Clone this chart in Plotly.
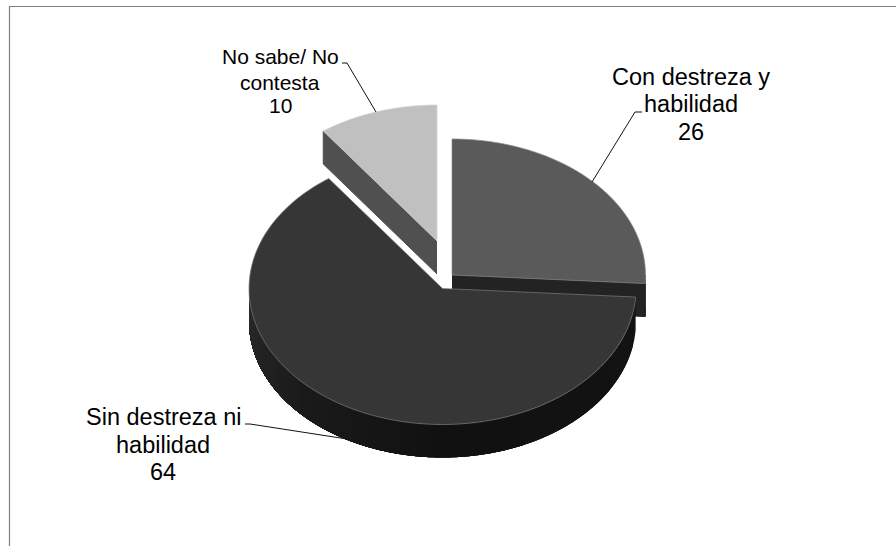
import numpy as np
import plotly.graph_objects as go

# Data
categories = ["Con destreza y habilidad", "Sin destreza ni habilidad", "No sabe/ No contesta"]
values = [26, 64, 10]
label_lines = [["Con destreza y", "habilidad"], ["Sin destreza ni", "habilidad"], ["No sabe/ No", "contesta"]]

# Styles / geometry (pixel-like frame of the hidden axes)
W, H = 896, 546
RX, RY, DEPTH = 193.5, 136, 33
apex = [(452, 275), (442.5, 288.5), (437, 241)]
top_col = ["#5a5a5a", "#363636", "#c0c0c0"]
cut_col = ["#232323", "#232323", "#505050"]
edge_col = ["#8a8a8a", "#7c7c7c", "#d4d4d4"]
label_x = [691, 163, 280]
label_y = [[77, 104, 132], [417, 445, 472], [56, 82, 105]]
label_size = [23.5, 23.5, 21]
leaders = [[(592, 182), (635, 112), (642, 112)],
           [(347, 439), (250, 424), (245, 424)],
           [(376, 112), (347, 63), (342, 63)]]

total = sum(values)
ends = np.cumsum(values) / total * 2 * np.pi
starts = np.concatenate([[0], ends[:-1]])


def rim(c, t, drop=0):
    return c[0] + RX * np.sin(t), c[1] - RY * np.cos(t) + drop


def wall_grey(t):
    deg = np.degrees(t)
    return int(round(np.interp(deg, [90, 130, 180, 225, 270], [20, 18, 17, 26, 42])))


fig = go.Figure()


def poly(xs, ys, fill, line=None, lw=1):
    fig.add_trace(go.Scatter(x=list(xs), y=list(ys), mode="lines", fill="toself", fillcolor=fill,
                             line=dict(color=line or fill, width=lw, simplify=False),
                             hoverinfo="skip", showlegend=False))


def draw_slice(i):
    c, a0, a1 = apex[i], starts[i], ends[i]
    # cut faces
    if i == 0:
        ex, ey = rim(c, a1)
        poly([c[0], ex, ex, c[0]], [c[1], ey, ey + DEPTH, c[1] + DEPTH], cut_col[i])
        t = np.linspace(np.pi / 2, a1, 8)
        x, y = rim(c, t)
        poly(np.r_[x, x[::-1]], np.r_[y, y[::-1] + DEPTH], cut_col[i])
    if i == 2:
        ex, ey = rim(c, a0)
        poly([c[0], ex, ex, c[0]], [c[1], ey, ey + DEPTH, c[1] + DEPTH], cut_col[i])
    if i == 1:
        # outer wall: painter-style gradient, each band reaches to the far end so no seams show
        wall_end = 1.5 * np.pi
        levels = sorted({wall_grey(t) for t in np.linspace(a0, wall_end, 400)})
        grid = np.linspace(a0, wall_end, 400)
        greys = np.array([wall_grey(t) for t in grid])
        # contiguous runs of equal grey
        breaks = [0] + list(np.nonzero(np.diff(greys))[0] + 1)
        for b in breaks:
            t = np.linspace(grid[b], wall_end, 200)
            x, y = rim(c, t)
            g = greys[b]
            poly(np.r_[x, x[::-1]], np.r_[y, y[::-1] + DEPTH], f"rgb({g},{g},{g})", lw=0)
    # top face
    t = np.linspace(a0, a1, 160)
    x, y = rim(c, t)
    poly(np.r_[c[0], x, c[0]], np.r_[c[1], y, c[1]], top_col[i], edge_col[i], 0.7)


for i in [2, 0, 1]:
    draw_slice(i)

# Leader lines
for pts in leaders:
    fig.add_trace(go.Scatter(x=[p[0] for p in pts], y=[p[1] for p in pts], mode="lines",
                             line=dict(color="#111111", width=1), hoverinfo="skip", showlegend=False))

# Frame
fig.add_trace(go.Scatter(x=[9.5, 9.5, W], y=[H, 6.5, 6.5], mode="lines",
                         line=dict(color="#808080", width=1.2), hoverinfo="skip", showlegend=False))

# Labels
for i, v in enumerate(values):
    for text, y in zip(label_lines[i] + [str(v)], label_y[i]):
        fig.add_annotation(x=label_x[i], y=y, text=text, showarrow=False, xanchor="center", yanchor="middle",
                           font=dict(family="Liberation Sans", size=label_size[i], color="#000000"))

fig.update_layout(width=W, height=H, margin=dict(l=0, r=0, t=0, b=0), paper_bgcolor="white", plot_bgcolor="white",
                  xaxis=dict(range=[0, W], visible=False, fixedrange=True),
                  yaxis=dict(range=[H, 0], visible=False, fixedrange=True), showlegend=False)
fig.write_html("out.html", post_script="document.body.style.margin='0';document.body.style.overflow='hidden';",
               config=dict(displayModeBar=False))
